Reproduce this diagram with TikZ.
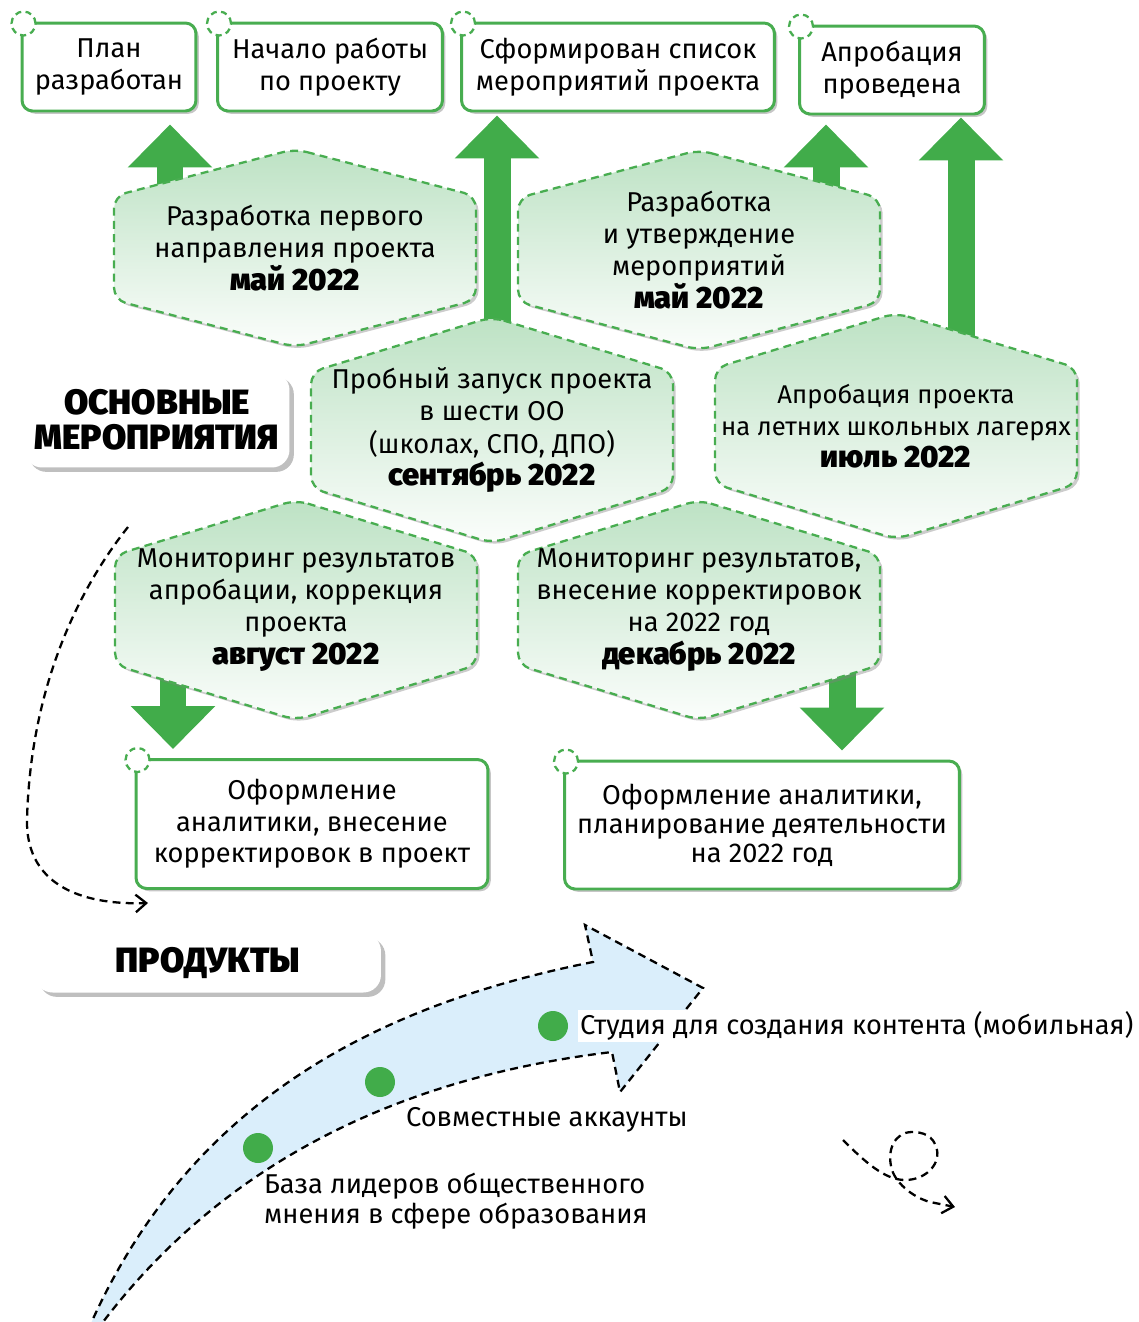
\documentclass[tikz,border=0pt]{standalone}
\usepackage{fontspec}
\setmainfont{Fira Sans}
\IfFontExistsTF{Fira Sans Black}{\newfontfamily\heavyfont{Fira Sans Black}}{\newcommand{\heavyfont}{\bfseries}}
\newcommand{\stagedate}[1]{{\heavyfont\fontsize{17.5}{18.3}\selectfont #1}}
\usetikzlibrary{arrows.meta,shadows}
\definecolor{arrowgreen}{HTML}{41AC4A}
\definecolor{linegreen}{HTML}{48AD50}
\definecolor{hexgreen}{HTML}{BDE2C4}
\definecolor{skyfill}{HTML}{DAEEFB}
\pgfdeclarelayer{bg}
\pgfdeclarelayer{mid}
\pgfsetlayers{bg,mid,main}
% hexagon round a node: name, shoulder, vertex
\newcommand{\hexcell}[3]{%
  \draw[hexline] ([shift={(0,-#3)}]#1.center) -- ([shift={(181,-#2)}]#1.center)
    -- ([shift={(181,#2)}]#1.center) -- ([shift={(0,#3)}]#1.center)
    -- ([shift={(-181,#2)}]#1.center) -- ([shift={(-181,-#2)}]#1.center) -- cycle;}
\begin{document}
\begin{tikzpicture}[x=0.02cm, y=-0.02cm,
    box/.style={draw=linegreen, line width=1.7pt, rounded corners=6pt, fill=white, align=center, inner sep=0pt,
      drop shadow={shadow xshift=1.6pt, shadow yshift=-1.6pt, opacity=.45}, font=\fontsize{15.5}{18}\selectfont},
    spot/.style={circle, draw=linegreen, dash pattern=on 3.5pt off 2.5pt, line width=1.3pt, fill=white, minimum size=0.48cm, inner sep=0pt},
    hexline/.style={draw=linegreen, dash pattern=on 4.5pt off 3pt, line width=1.3pt, rounded corners=7pt,
      top color=hexgreen, bottom color=white!94!hexgreen, drop shadow={shadow xshift=1.5pt, shadow yshift=-1.5pt, opacity=.4}},
    hextext/.style={align=center, font=\fontsize{15.5}{18.3}\selectfont},
    heading/.style={fill=white, rounded corners=10pt, align=center, inner sep=0pt,
      drop shadow={shadow xshift=2.5pt, shadow yshift=-2.5pt, opacity=.5}, font=\heavyfont\fontsize{20}{20}\selectfont},
    uparrow/.style={arrowgreen, line width=0.54cm, -{Triangle[width=1.64cm,length=0.86cm]}},
    dashline/.style={black, line width=1.3pt, dash pattern=on 4.5pt off 3pt},
    dot/.style={circle, fill=arrowgreen, minimum size=0.6cm, inner sep=0pt},
    prodtext/.style={anchor=west, inner sep=1pt, font=\fontsize{15.5}{17}\selectfont}]
\useasboundingbox (0,0) rectangle (1139,1322);

% results
\node[box, minimum width=3.48cm, minimum height=1.76cm] (b1) at (109,67) {План\\разработан};
\node[box, minimum width=4.5cm, minimum height=1.76cm] (b2) at (330,67) {Начало работы\\по проекту};
\node[box, minimum width=6.26cm, minimum height=1.76cm] (b3) at (618,67) {Сформирован список\\мероприятий проекта};
\node[box, minimum width=3.7cm, minimum height=1.76cm] (b4) at (892,70) {Апробация\\проведена};
\node[box, minimum width=7.04cm, minimum height=2.58cm] (b5) at (312,824) {Оформление\\аналитики, внесение\\корректировок в проект};
\node[box, minimum width=7.9cm, minimum height=2.56cm, font=\fontsize{15.5}{16.5}\selectfont] (b6) at (762,825) {Оформление аналитики,\\планирование деятельности\\на 2022 год};
\foreach \b in {b1,b2,b3,b4,b5,b6}
  \node[spot] (s\b) at ([shift={(3,2)}]\b.north west) {};

% stages
\node[hextext] (h1) at (295,248) {Разработка первого\\направления проекта\\\stagedate{май 2022}};
\node[hextext] (h2) at (699,250) {Разработка\\и утверждение\\мероприятий\\\stagedate{май 2022}};
\node[hextext] (h3) at (492,430) {Пробный запуск проекта\\в шести ОО\\(школах, СПО, ДПО)\\\stagedate{сентябрь 2022}};
\node[hextext, font=\fontsize{14.6}{18.3}\selectfont] (h4) at (896,426) {Апробация проекта\\на летних школьных лагерях\\\stagedate{июль 2022}};
\node[hextext] (h5) at (296,610) {Мониторинг результатов\\апробации, коррекция\\проекта\\\stagedate{август 2022}};
\node[hextext] (h6) at (699,610) {Мониторинг результатов,\\внесение корректировок\\на 2022 год\\\stagedate{декабрь 2022}};

\begin{pgfonlayer}{mid}
  \hexcell{h1}{52}{99}
  \hexcell{h2}{52}{100}
  \hexcell{h3}{58}{113}
  \hexcell{h4}{58}{113}
  \hexcell{h5}{55}{110}
  \hexcell{h6}{55}{110}
\end{pgfonlayer}

\begin{pgfonlayer}{bg}
  \draw[uparrow, shorten >=0.24cm] (h1.center -| 170,0) -- (b1.south -| 170,0);
  \draw[uparrow, shorten >=0.06cm] (h3.center -| 497,0) -- (b3.south -| 497,0);
  \draw[uparrow, shorten >=0.18cm] (h2.center -| 826,0) -- (b4.south -| 826,0);
  \draw[uparrow, shorten >=0.04cm] (h4.center -| 961,0) -- (b4.south -| 961,0);
  \draw[uparrow, shorten >=0.18cm] (h5.center -| 173,0) -- (b5.north -| 173,0);
  \draw[uparrow, shorten >=0.18cm] (h6.center -| 842,0) -- (b6.north -| 842,0);
\end{pgfonlayer}

\node[heading, minimum width=5.3cm, minimum height=1.9cm] (m) at (157,420) {ОСНОВНЫЕ\\МЕРОПРИЯТИЯ};
\node[heading, minimum width=6.92cm, minimum height=1.18cm] (p) at (208,963) {ПРОДУКТЫ};

% loop back
\coordinate (loopA) at (128,527);
\coordinate (loopB) at (148,903);
\draw[dashline, -{Straight Barb[length=6pt,width=10pt]}] (loopA) .. controls (70,600) and (30,700) .. (27,820)
  .. controls (26,890) and (90,905) .. (loopB);

% products
\draw[dashline, fill=skyfill] (88,1330) .. controls (180,1120) and (350,1010) .. (593,962) -- (585,925) -- (703,988)
  -- (620,1092) -- (612,1052) .. controls (420,1075) and (230,1150) .. (97,1330) -- cycle;
\node[dot] (d1) at (553,1026) {};
\node[dot] (d2) at (380,1082) {};
\node[dot] (d3) at (258,1148) {};
\node[prodtext, fill=white] (t1) at (578,1026) {Студия для создания контента (мобильная)};
\node[prodtext] (t2) at (404,1120) {Совместные аккаунты};
\node[prodtext, align=left] (t3) at (262,1201) {База лидеров общественного\\мнения в сфере образования};

% curl
\coordinate (curlA) at (843,1140);
\coordinate (curlB) at (955,1207);
\draw[dashline, -{Straight Barb[length=6pt,width=10pt]}] (curlA) .. controls (865,1162) and (885,1180) .. (905,1180)
  .. controls (925,1180) and (940,1165) .. (937,1150) .. controls (934,1135) and (922,1132) .. (912,1132)
  .. controls (895,1132) and (886,1150) .. (892,1170) .. controls (897,1185) and (915,1198) .. (930,1202) -- (curlB);
\end{tikzpicture}
\end{document}
